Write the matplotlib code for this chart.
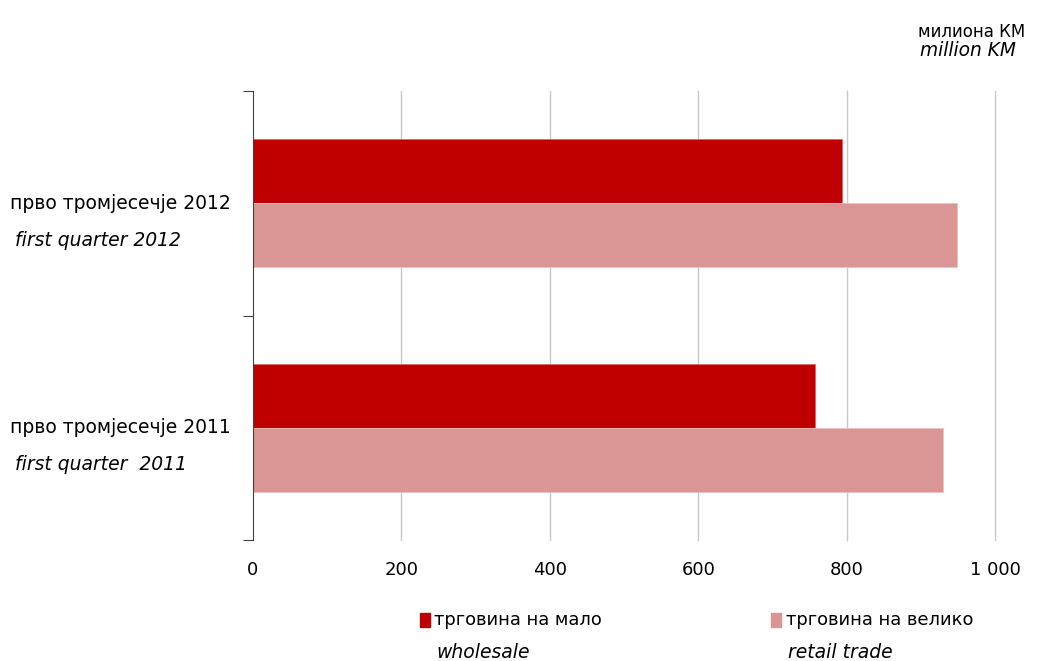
import matplotlib
matplotlib.use("Agg")
import matplotlib.pyplot as plt
import numpy as np

# Data
categories = ["прво тромјесечје 2011", "прво тромјесечје 2012"]
categories_en = ["first quarter  2011", "first quarter 2012"]
wholesale = [757, 794]
retail = [930, 949]
series_names = ["трговина на мало", "трговина на велико"]
series_names_en = ["wholesale", "retail trade"]
colors = ["#C00000", "#D99694"]
xticks = [0, 200, 400, 600, 800, 1000]
xtick_labels = ["0", "200", "400", "600", "800", "1 000"]

plt.rcParams["font.family"] = ["DejaVu Sans"]

fig = plt.figure(figsize=(10.41, 6.61), dpi=100)
ax = fig.add_axes([0.243, 0.183, 0.713, 0.679])

y = np.arange(len(categories))
h = 0.285
ax.barh(y + h / 2, wholesale, height=h, color=colors[0], edgecolor="#E06666", linewidth=0.6, zorder=3)
ax.barh(y - h / 2, retail, height=h, color=colors[1], edgecolor="#EFC0BF", linewidth=0.6, zorder=3)

ax.set_xlim(0, 1000)
ax.set_ylim(-0.5, 1.5)
ax.set_xticks(xticks)
ax.set_xticklabels(xtick_labels, fontsize=13)
ax.set_yticks([-0.5, 0.5, 1.5])
ax.set_yticklabels([])
ax.tick_params(axis="y", direction="out", length=7, color="#404040")
ax.tick_params(axis="x", length=0, pad=15)
for xv in xticks[1:]:
    ax.axvline(xv, color="#C8C8C8", linewidth=1, zorder=0, clip_on=False)

for s in ["top", "right", "bottom"]:
    ax.spines[s].set_visible(False)
ax.spines["left"].set_color("#404040")
ax.spines["left"].set_zorder(4)

# category labels
for i in range(len(categories)):
    yt = ax.transAxes.inverted().transform(ax.transData.transform((0, y[i])))[1]
    ax.text(-0.327, yt, categories[i], transform=ax.transAxes, fontsize=13.5, va="center", ha="left")
    ax.text(-0.320, yt - 0.082, categories_en[i], transform=ax.transAxes, fontsize=13.5,
            style="italic", va="center", ha="left")

# unit
fig.text(0.882, 0.952, "милиона КМ", fontsize=12, ha="left", va="center")
fig.text(0.884, 0.923, "million KM", fontsize=13.4, style="italic", ha="left", va="center")

# legend
leg_x = [0.403, 0.741]
for i in range(2):
    fig.patches.append(plt.Rectangle((leg_x[i], 0.052), 0.0096, 0.020, transform=fig.transFigure,
                                     color=colors[i], figure=fig))
    fig.text(leg_x[i] + 0.014, 0.062, series_names[i], fontsize=12.9, ha="left", va="center")
    fig.text(leg_x[i] + 0.016, 0.013, series_names_en[i], fontsize=13.5, style="italic", ha="left", va="center")

fig.savefig("out.png", dpi=100)
